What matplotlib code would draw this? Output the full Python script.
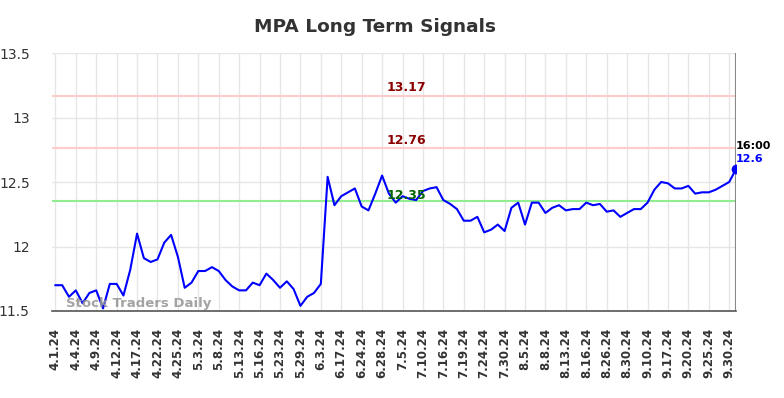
import numpy as np
import matplotlib
matplotlib.use("Agg")
import matplotlib.pyplot as plt

# closing prices, one per trading day shown (index based x axis)
prices = [11.70, 11.70, 11.61, 11.66, 11.56, 11.64, 11.66, 11.52, 11.71, 11.71,
          11.62, 11.82, 12.10, 11.91, 11.88, 11.90, 12.03, 12.09, 11.92, 11.68,
          11.72, 11.81, 11.81, 11.84, 11.81, 11.74, 11.69, 11.66, 11.66, 11.72,
          11.70, 11.79, 11.74, 11.68, 11.73, 11.67, 11.54, 11.61, 11.64, 11.71,
          12.54, 12.32, 12.39, 12.42, 12.45, 12.31, 12.28, 12.41, 12.55, 12.41,
          12.34, 12.39, 12.37, 12.36, 12.43, 12.45, 12.46, 12.36, 12.33, 12.29,
          12.20, 12.20, 12.23, 12.11, 12.13, 12.17, 12.12, 12.30, 12.34, 12.17,
          12.34, 12.34, 12.26, 12.30, 12.32, 12.28, 12.29, 12.29, 12.34, 12.32,
          12.33, 12.27, 12.28, 12.23, 12.26, 12.29, 12.29, 12.34, 12.44, 12.50,
          12.49, 12.45, 12.45, 12.47, 12.41, 12.42, 12.42, 12.44, 12.47, 12.50,
          12.60]

tick_labels = ["4.1.24", "4.4.24", "4.9.24", "4.12.24", "4.17.24", "4.22.24", "4.25.24",
               "5.3.24", "5.8.24", "5.13.24", "5.16.24", "5.23.24", "5.29.24", "6.3.24",
               "6.17.24", "6.24.24", "6.28.24", "7.5.24", "7.10.24", "7.16.24", "7.19.24",
               "7.24.24", "7.30.24", "8.5.24", "8.8.24", "8.13.24", "8.16.24", "8.26.24",
               "8.30.24", "9.10.24", "9.17.24", "9.20.24", "9.25.24", "9.30.24"]

resistance = [13.17, 12.76]
support = [12.35]
last_time = "16:00"

fig = plt.figure(figsize=(7.84, 3.98), dpi=100)
ax = fig.add_axes([0.0663, 0.2186, 0.8725, 0.6482])

x = np.arange(len(prices))
ax.plot(x, prices, color="blue", lw=1.5, zorder=3)
ax.plot(x[-1], prices[-1], "o", color="blue", ms=6, zorder=4)

for lvl in resistance:
    ax.axhline(lvl, color="#ffcccc", lw=1.5, zorder=2)
    ax.text(51.5, lvl + 0.015, f"{lvl:.2f}", color="#8b0000", fontsize=9,
            fontweight="bold", ha="center", va="bottom", zorder=5)
for lvl in support:
    ax.axhline(lvl, color="#90ee90", lw=1.5, zorder=2)
    ax.text(51.5, lvl - 0.005, f"{lvl:.2f}", color="#006400", fontsize=9,
            fontweight="bold", ha="center", va="bottom", zorder=5)

ax.axvline(x[-1], color="#888888", lw=1.5, zorder=2)
ax.text(x[-1], prices[-1] + 0.14, last_time, color="black", fontsize=8,
        fontweight="bold", ha="left", va="bottom")
ax.text(x[-1], prices[-1] + 0.04, f"{prices[-1]:g}", color="blue", fontsize=8,
        fontweight="bold", ha="left", va="bottom")

ax.text(0.02, 0.005, "Stock Traders Daily", transform=ax.transAxes, color="#999999",
        fontsize=9.5, fontweight="bold", ha="left", va="bottom", alpha=0.9)

ax.set_xlim(-0.5, 100)
ax.set_ylim(11.5, 13.5)
ax.set_yticks([11.5, 12, 12.5, 13, 13.5])
ax.set_yticklabels(["11.5", "12", "12.5", "13", "13.5"], fontsize=10, color="#333333")
ax.set_xticks(np.arange(0, len(prices), 3))
ax.set_xticklabels(tick_labels, rotation=90, fontsize=8.5, fontweight="bold", color="#333333")
ax.tick_params(axis="both", length=0, pad=12)
ax.tick_params(axis="y", pad=16)

ax.grid(True, color="#e6e6e6", lw=1)
ax.set_axisbelow(True)
for s in ["top", "left", "right"]:
    ax.spines[s].set_visible(False)
ax.spines["bottom"].set_color("#555555")
ax.spines["bottom"].set_linewidth(1.2)

fig.suptitle("MPA Long Term Signals", x=0.478, y=0.955, fontsize=13.3, fontweight="bold", color="#333333")

fig.savefig("out.png", dpi=100)
